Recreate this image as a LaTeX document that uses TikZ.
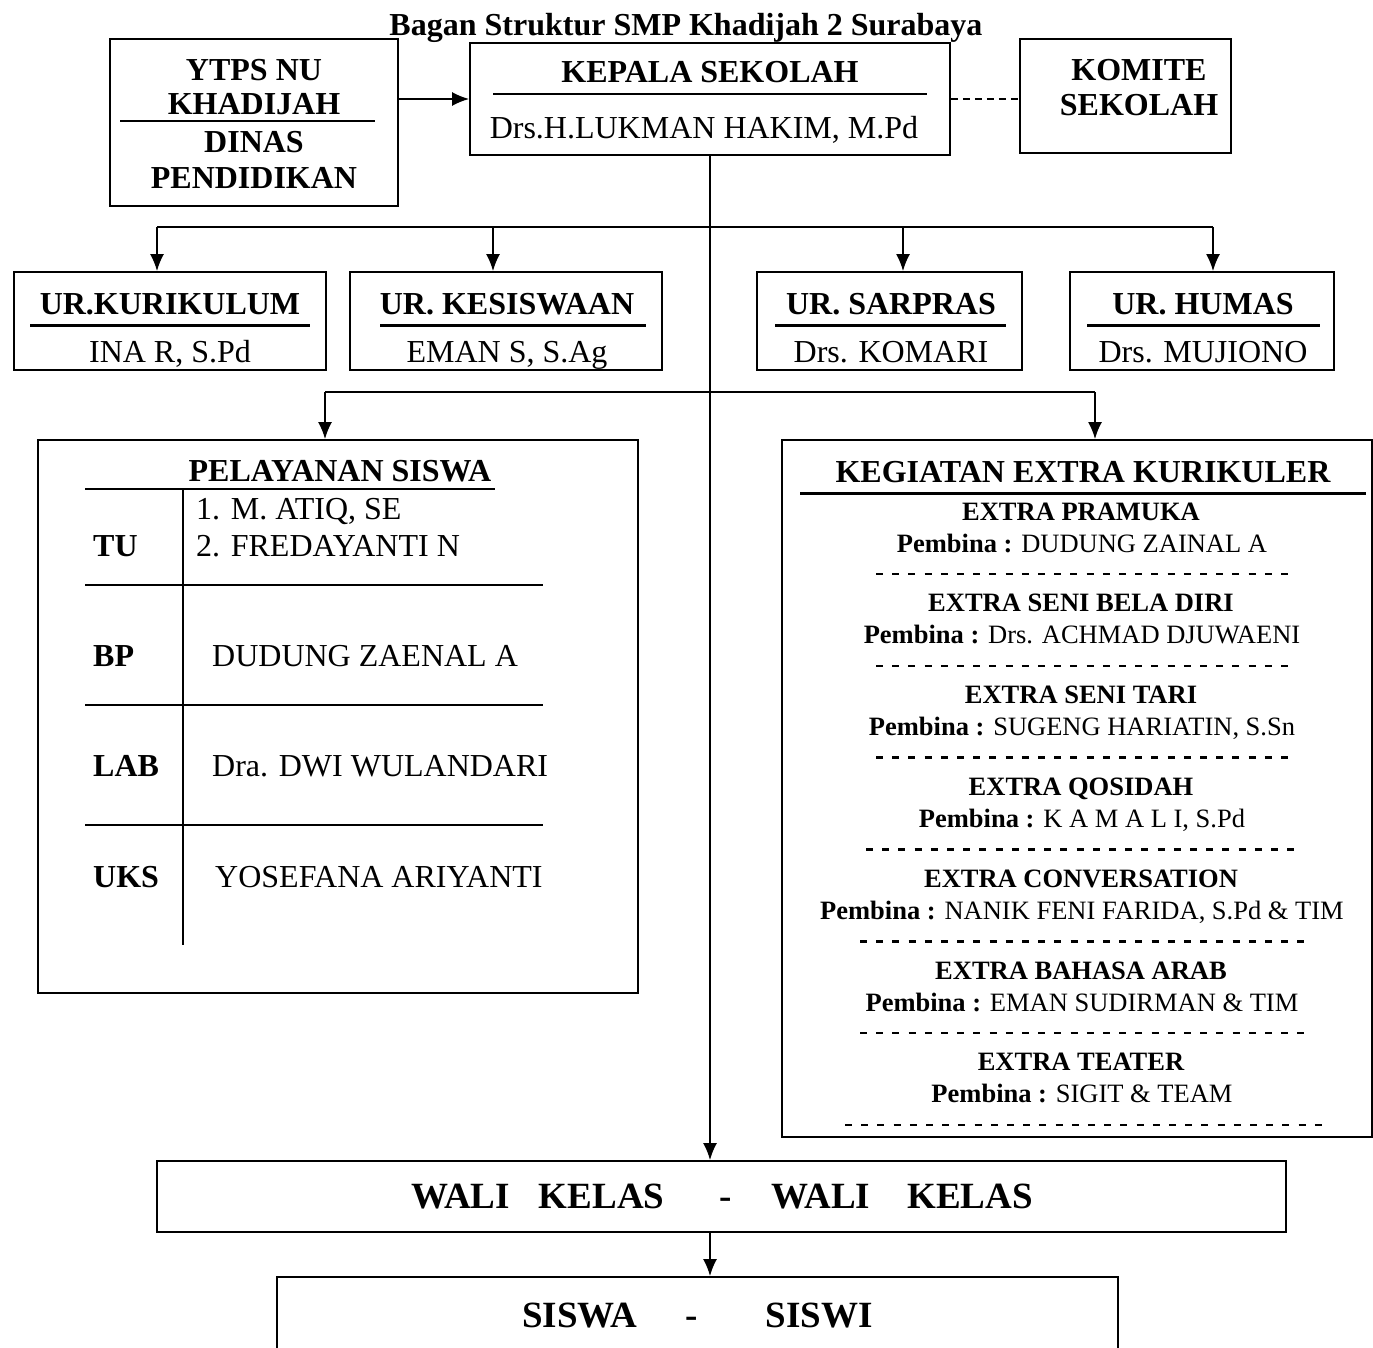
\documentclass[tikz,border=0pt]{standalone}
\usepackage{fontspec}
\setmainfont{Liberation Serif}
\usetikzlibrary{arrows.meta}

\tikzset{
  box/.style={draw, line width=1.8pt, inner sep=0pt},
  bighd/.style={font=\fontsize{32}{38}\selectfont\bfseries, inner sep=0pt, anchor=base},
  bignm/.style={font=\fontsize{32}{38}\selectfont, inner sep=0pt, anchor=base},
  smtxt/.style={font=\fontsize{26.5}{30}\selectfont, inner sep=0pt, anchor=base},
  bigbold/.style={font=\fontsize{37}{44}\selectfont\bfseries, inner sep=0pt, anchor=base},
  sepline/.style={line width=2pt},
  thickline/.style={line width=3pt},
  conn/.style={line width=1.8pt},
  arr/.style={line width=1.8pt, -{Latex[length=17pt,width=14pt]}},
  dashrow/.style={line width=2.6pt, dash pattern=on 7pt off 9.2pt},
}

\begin{document}
\begin{tikzpicture}[x=1pt, y=-1pt]
  \clip (0,0) rectangle (1373,1348);
  \useasboundingbox (0,0) rectangle (1373,1348);

  % title
  \node[bighd] (title) at (686,36) {Bagan Struktur SMP Khadijah 2 Surabaya};

  % top row
  \node[box, minimum width=288pt, minimum height=167pt] (ytps) at (254,122.5) {};
  \node[bighd] (ytps1) at (254,81) {YTPS NU};
  \node[bighd] (ytps2) at (254,115) {KHADIJAH};
  \draw[sepline] (120,121) -- (375,121);
  \node[bighd] (ytps3) at (254,153) {DINAS};
  \node[bighd] (ytps4) at (254,189) {PENDIDIKAN};

  \node[box, minimum width=480pt, minimum height=112pt] (kepala) at (710,99) {};
  \node[bighd] (kepala1) at (710,83) {KEPALA SEKOLAH};
  \draw[sepline] (493,94) -- (927,94);
  \node[bignm] (kepala2) at (704,139) {Drs.H.LUKMAN HAKIM, M.Pd};

  \node[box, minimum width=211pt, minimum height=114pt] (komite) at (1125.5,96) {};
  \node[bighd] (komite1) at (1139,81) {KOMITE};
  \node[bighd] (komite2) at (1139,116) {SEKOLAH};

  \draw[arr] (ytps.east |- kepala.west) -- (kepala.west);
  \draw[conn, dash pattern=on 7pt off 5pt] (kepala.east) -- (kepala.east -| komite.west);

  % urusan
  \node[box, minimum width=312pt, minimum height=98pt] (kurikulum) at (170,321) {};
  \node[box, minimum width=312pt, minimum height=98pt] (kesiswaan) at (506,321) {};
  \node[box, minimum width=265pt, minimum height=98pt] (sarpras) at (889.5,321) {};
  \node[box, minimum width=264pt, minimum height=98pt] (humas) at (1202,321) {};
  \node[bighd] (kur1) at (170,314) {UR.KURIKULUM};
  \node[bignm] (kur2) at (170,362) {INA R, S.Pd};
  \draw[thickline] (30,325) -- (310,325);
  \node[bighd] (kes1) at (507,314) {UR. KESISWAAN};
  \node[bignm] (kes2) at (507,362) {EMAN S, S.Ag};
  \draw[thickline] (380,325) -- (646,325);
  \node[bighd] (sar1) at (891,314) {UR. SARPRAS};
  \node[bignm] (sar2) at (891,362) {Drs. KOMARI};
  \draw[thickline] (775,325) -- (1006,325);
  \node[bighd] (hum1) at (1203,314) {UR. HUMAS};
  \node[bignm] (hum2) at (1203,362) {Drs. MUJIONO};
  \draw[thickline] (1087,325) -- (1320,325);

  \coordinate (b1) at (157,227);
  \coordinate (b2) at (493,227);
  \coordinate (b3) at (903,227);
  \coordinate (b4) at (1213,227);
  \draw[conn] (b1) -- (b4);
  \draw[arr] (b1) -- (b1 |- kurikulum.north);
  \draw[arr] (b2) -- (b2 |- kesiswaan.north);
  \draw[arr] (b3) -- (b3 |- sarpras.north);
  \draw[arr] (b4) -- (b4 |- humas.north);

  % pelayanan siswa
  \node[box, minimum width=600pt, minimum height=553pt] (pelayanan) at (338,716.5) {};
  \node[bighd] (pel0) at (340,481) {PELAYANAN SISWA};
  \draw[sepline] (85,489) -- (495,489);
  \draw[sepline] (183,489) -- (183,945);
  \foreach \y in {585,705,825}
    \draw[sepline] (85,\y) -- (543,\y);
  \node[bighd, anchor=base west] (tu) at (93,556) {TU};
  \node[bighd, anchor=base west] (bp) at (93,666) {BP};
  \node[bighd, anchor=base west] (lab) at (93,776) {LAB};
  \node[bighd, anchor=base west] (uks) at (93,887) {UKS};
  \node[bignm, anchor=base west] (tu1) at (196,519) {1. M. ATIQ, SE};
  \node[bignm, anchor=base west] (tu2) at (196,556) {2. FREDAYANTI N};
  \node[bignm, anchor=base west] (bp1) at (212,666) {DUDUNG ZAENAL A};
  \node[bignm, anchor=base west] (lab1) at (212,776) {Dra. DWI WULANDARI};
  \node[bignm, anchor=base west] (uks1) at (215,887) {YOSEFANA ARIYANTI};

  % kegiatan extra
  \node[box, minimum width=590pt, minimum height=697pt] (kegiatan) at (1077,788.5) {};
  \node[bighd] (keg0) at (1083,482) {KEGIATAN EXTRA KURIKULER};
  \draw[thickline] (800,493) -- (1366,493);
  \foreach \i/\ex/\pb/\xa/\xb in {
      0/PRAMUKA/DUDUNG ZAINAL A/876/1288,
      1/SENI BELA DIRI/Drs. ACHMAD DJUWAENI/876/1288,
      2/SENI TARI/{SUGENG HARIATIN, S.Sn}/876/1288,
      3/QOSIDAH/{K A M A L I, S.Pd}/866/1294.2,
      4/CONVERSATION/{NANIK FENI FARIDA, S.Pd \& TIM}/860/1304.4,
      5/BAHASA ARAB/EMAN SUDIRMAN \& TIM/860/1304.4,
      6/TEATER/SIGIT \& TEAM/845/1321.8} {
    \pgfmathsetmacro\yh{520+91.8*\i}
    \node[smtxt, font=\fontsize{26.5}{30}\selectfont\bfseries] (exh\i) at (1081,\yh) {EXTRA \ex};
    \node[smtxt] (exp\i) at (1082,\yh+32) {\textbf{Pembina :} \pb};
    \draw[dashrow] (\xa,\yh+54) -- (\xb,\yh+54);
  }

  % wali kelas, siswa
  \node[box, minimum width=1129pt, minimum height=71pt] (wali) at (721.5,1196.5) {};
  \node[bigbold] (wali1) at (722,1208) {WALI\hspace{29pt}KELAS\hspace{55pt}-\hspace{40pt}WALI\hspace{37pt}KELAS};
  \node[box, minimum width=841pt, minimum height=90pt] (siswa) at (697.5,1322) {};
  \node[bigbold] (siswa1) at (697.5,1327) {SISWA\hspace{48pt}-\hspace{68pt}SISWI};

  % trunk
  \coordinate (b5) at (325,392);
  \coordinate (b6) at (1095,392);
  \draw[arr] (kepala.south) -- (kepala.south |- wali.north);
  \draw[conn] (b5) -- (b6);
  \draw[arr] (b5) -- (b5 |- pelayanan.north);
  \draw[arr] (b6) -- (b6 |- kegiatan.north);
  \draw[arr] (kepala.south |- wali.south) -- (kepala.south |- siswa.north);
\end{tikzpicture}
\end{document}
